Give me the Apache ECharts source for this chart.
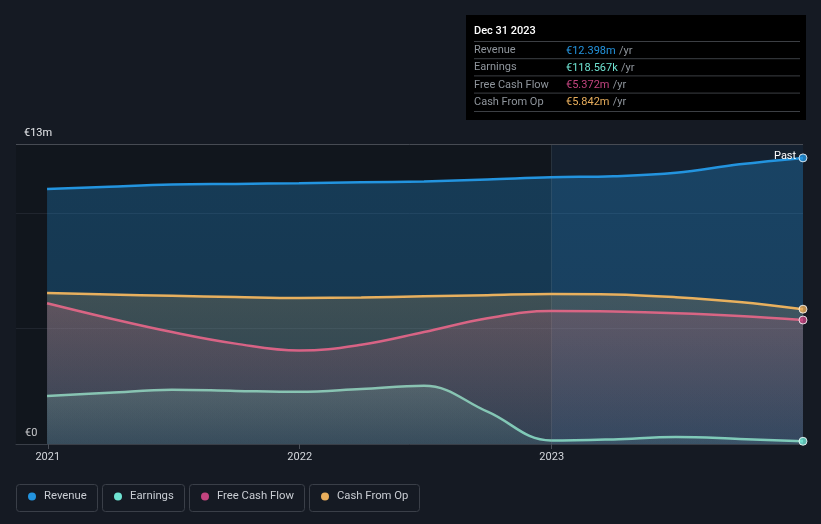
<!DOCTYPE html>
<html><head><meta charset="utf-8">
<script src="https://cdn.jsdelivr.net/npm/echarts@6/dist/echarts.min.js"></script>
<style>html,body{margin:0;padding:0;background:#151a23;}#c{width:821px;height:524px;}</style>
</head><body><div id="c"></div>
<script>
const dates = ['2020-12-31','2021-03-31','2021-06-30','2021-09-30','2021-12-31','2022-03-31','2022-06-30','2022-09-30','2022-12-31','2023-03-31','2023-06-30','2023-09-30','2023-12-31'];
const revenue  = [11.05,11.15,11.24,11.27,11.30,11.34,11.38,11.46,11.56,11.60,11.75,12.12,12.398];
const earnings = [2.08,2.22,2.35,2.30,2.26,2.38,2.52,1.40,0.15,0.20,0.30,0.22,0.118567];
const fcf      = [6.10,5.45,4.85,4.35,4.05,4.30,4.85,5.45,5.76,5.74,5.67,5.55,5.372];
const cfo      = [6.54,6.48,6.42,6.37,6.33,6.35,6.40,6.45,6.50,6.48,6.36,6.15,5.842];
const names = ['Revenue','Earnings','Free Cash Flow','Cash From Op'];
const colors = ['#2394df','#6fd6c4','#d5558c','#e8b05e'];
const dotColors = ['#2394df','#6fe3d2','#c2447f','#e8ae5c'];
const tipLabels = ['€12.398m','€118.567k','€5.372m','€5.842m'];
const yearTicks = ['2021-01-01','2022-01-01','2023-01-01'];
const pastStart = '2023-01-01';
const xMin = '2020-11-16', xMax = '2023-12-31';

const T = d => Date.parse(d + 'T00:00:00Z');
const seriesData = [revenue, earnings, fcf, cfo];
const fillTop = [0.42,0.3,0.3,0.28], fillBot = [0.36,0.12,0.1,0.1];
const chart = echarts.init(document.getElementById('c'));
function rgba(hex,a){const n=parseInt(hex.slice(1),16);return `rgba(${n>>16},${(n>>8)&255},${n&255},${a})`;}
const series = [];
seriesData.forEach((arr,i)=>{
  series.push({
    name: names[i], type:'line', smooth:0.4, showSymbol:false, z: 3+i,
    data: arr.map((v,k)=>[T(dates[k]),v]),
    lineStyle:{color:colors[i],width:2.5},
    itemStyle:{color:dotColors[i]},
    areaStyle:{color:new echarts.graphic.LinearGradient(0,0,0,1,[{offset:0,color:rgba(colors[i],fillTop[i])},{offset:1,color:rgba(colors[i],fillBot[i])}])}
  });
  series.push({
    type:'scatter', z:10, clip:false, symbolSize:8, silent:true,
    data:[[T(dates[arr.length-1]),arr[arr.length-1]]],
    itemStyle:{color:dotColors[i],borderColor:'#ffffff',borderWidth:1}
  });
});
series.push({
  type:'line', data:[], z:1, silent:true,
  markArea:{silent:true,itemStyle:{color:'rgba(0,0,0,0.15)'},data:[[{xAxis:T(xMin)},{xAxis:T(pastStart)}]]},
  markLine:{silent:true,symbol:'none',label:{show:false},lineStyle:{color:'rgba(120,140,160,0.22)',width:1,type:'solid'},data:[{xAxis:T(pastStart)}]}
});
series.push({
  type:'line', data:[], z:1, silent:true,
  markArea:{silent:true,itemStyle:{color:'rgba(20,80,130,0.14)'},data:[[{xAxis:T(pastStart)},{xAxis:T(xMax)}]]},
  markLine:{silent:true,symbol:'none',lineStyle:{color:'#474b53',width:1,type:'solid'},
    label:{show:true,position:'insideStartTop',formatter:'€13m',color:'#e6e8eb',fontSize:11,fontFamily:'Roboto',distance:[8,5]},
    data:[{yAxis:13}]}
});

const legends = names.map((n,i)=>({
  data:[n], left:[28,114,201,321][i], top:491, padding:0, icon:'circle', itemWidth:8, itemHeight:8,
  textStyle:{color:'#c9cdd3',fontSize:11.3,fontFamily:'Roboto',padding:[0,0,0,3]}, selectedMode:false
}));

const graphics = [];
[[16,81],[102,82],[189,115],[309,110]].forEach(([x,w])=>{
  graphics.push({type:'rect',shape:{x:x+0.5,y:484.5,width:w,height:27,r:3},style:{fill:'none',stroke:'#3a3f48',lineWidth:1},z:-1});
});
const tip = {type:'group',x:466,y:15,children:[
  {type:'rect',shape:{x:0,y:0,width:340,height:105},style:{fill:'#000000'}},
  {type:'text',x:8,y:11,style:{text:'Dec 31 2023',fill:'#ffffff',font:'500 11px Roboto'}}
]};
names.forEach((n,i)=>{
  const y = 26.5 + i*17.2;
  tip.children.push({type:'line',shape:{x1:8,y1:y,x2:334,y2:y},style:{stroke:'#3c3f44',lineWidth:1}});
  tip.children.push({type:'text',x:8,y:y+3.5,style:{text:n,fill:'#8f959c',font:'11px Roboto'}});
  tip.children.push({type:'text',x:100,y:y+3.5,style:{rich:{v:{fill:dotColors[i],font:'11px Roboto'},u:{fill:'#8f959c',font:'11px Roboto'}},text:'{v|'+tipLabels[i]+'} {u|/yr}'}});
});
tip.children.push({type:'line',shape:{x1:8,y1:96.5,x2:334,y2:96.5},style:{stroke:'#3c3f44',lineWidth:1}});
graphics.push(tip);
graphics.push({type:'text',x:774,y:151,style:{text:'Past',fill:'#ffffff',font:'11px Roboto'},z:20});

chart.setOption({
  backgroundColor:'#151a23',
  animation:false,
  grid:{left:16,right:18,top:144,bottom:80},
  legend: legends,
  xAxis:{type:'value',min:T(xMin),max:T(xMax),
    axisLine:{show:true,lineStyle:{color:'#3a3f48'}},
    axisTick:{show:true,length:5,lineStyle:{color:'#4a4f58'},customValues:yearTicks.map(T)},
    axisLabel:{color:'#d4d7dc',fontSize:11,fontFamily:'Roboto',margin:8,customValues:yearTicks.map(T),formatter:v=>String(new Date(v).getUTCFullYear())},
    splitLine:{show:false}},
  yAxis:{type:'value',min:0,max:13,interval:5,
    axisLine:{show:false},axisTick:{show:false},
    axisLabel:{inside:true,verticalAlign:'bottom',margin:9,padding:[0,0,5,0],color:'#e6e8eb',fontSize:11,fontFamily:'Roboto',formatter:v=>v===0?'€0':''},
    splitLine:{show:true,lineStyle:{color:'rgba(90,100,115,0.25)'}}},
  graphic: graphics,
  series: series
});
</script></body></html>
